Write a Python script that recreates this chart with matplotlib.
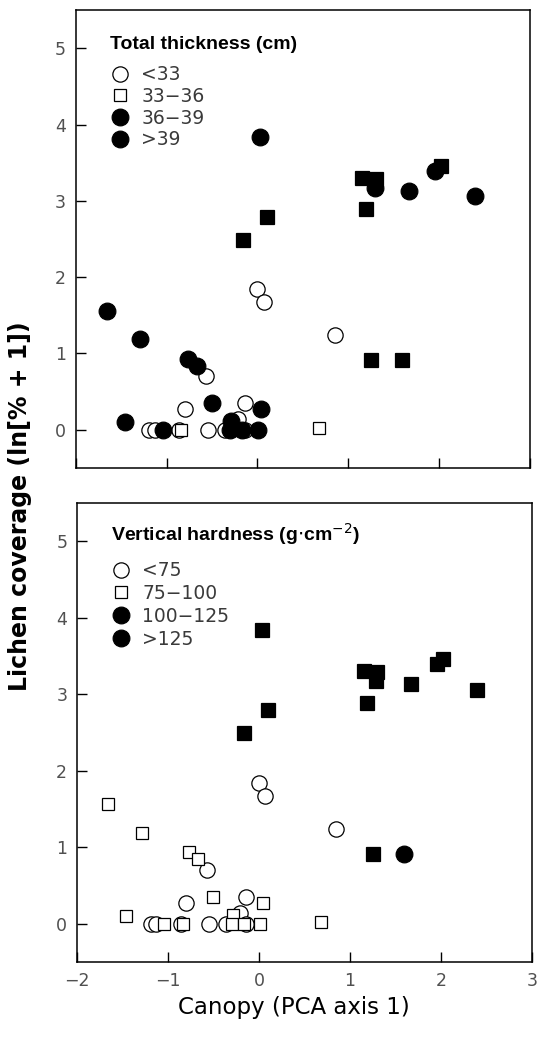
import matplotlib
matplotlib.use('Agg')
import matplotlib.pyplot as plt
from matplotlib.lines import Line2D

plt.rcParams['font.family'] = ['DejaVu Sans']

# canopy (PCA axis 1) and lichen coverage for each stand
canopy = [-1.66, -1.29, 0.03, -0.77, -0.67, -0.50, -1.46, -1.04, -0.29, -0.30,
          -0.17, 0.01, 0.04, 1.29, 1.67, 1.95, 2.40,
          1.15, 1.30, 1.19, 2.02, 0.10, -0.16, 1.25, 1.59,
          0.00, 0.07, 0.85, -0.57, -0.80, -0.14, -1.19, -1.13, -0.55, -0.36,
          -0.21, -0.14, -0.86,
          -0.84, 0.68]
lichen = [1.56, 1.19, 3.84, 0.93, 0.84, 0.35, 0.10, 0.00, 0.11, 0.00,
          0.00, 0.00, 0.27, 3.17, 3.13, 3.39, 3.06,
          3.30, 3.29, 2.89, 3.46, 2.79, 2.49, 0.91, 0.91,
          1.84, 1.67, 1.24, 0.70, 0.27, 0.35, 0.00, 0.00, 0.00, 0.00,
          0.14, 0.00, 0.00,
          0.00, 0.02]

# class index per stand: 0 = open circle, 1 = open square, 2 = filled square, 3 = filled circle
thickness_class = [3, 3, 3, 3, 3, 3, 3, 3, 3, 3,
                   3, 3, 3, 3, 3, 3, 3,
                   2, 2, 2, 2, 2, 2, 2, 2,
                   0, 0, 0, 0, 0, 0, 0, 0, 0, 0,
                   0, 0, 0,
                   1, 1]
hardness_class = [1, 1, 2, 1, 1, 1, 1, 1, 1, 1,
                  1, 1, 1, 2, 2, 2, 2,
                  2, 2, 2, 2, 2, 2, 2, 3,
                  0, 0, 0, 0, 0, 0, 0, 0, 0, 0,
                  0, 0, 0,
                  1, 1]

thickness_labels = ['<33', '33\u221236', '36\u221239', '>39']
hardness_labels = ['<75', '75\u2212100', '100\u2212125', '>125']

styles = [dict(marker='o', mfc='white', mec='black', ms=11, mew=0.9),
          dict(marker='s', mfc='white', mec='black', ms=9, mew=0.9),
          dict(marker='s', mfc='black', mec='black', ms=9.5, mew=0.9),
          dict(marker='o', mfc='black', mec='black', ms=12, mew=0.9)]
# the printed legend shows a filled circle for the third class
legend_styles = [styles[0], styles[1], styles[3], styles[3]]

fig = plt.figure(figsize=(5.38, 10.37), dpi=100)
ax1 = fig.add_axes([0.141, 0.549, 0.844, 0.441])
ax2 = fig.add_axes([0.143, 0.0725, 0.846, 0.4425])


def draw(ax, classes, labels, title, top, spacing, sep):
    for k in [0, 1, 3, 2]:
        xs = [x for x, c in zip(canopy, classes) if c == k]
        ys = [y for y, c in zip(lichen, classes) if c == k]
        ax.plot(xs, ys, linestyle='none', **styles[k])
    handles = [Line2D([], [], linestyle='none', **legend_styles[i]) for i in range(4)]
    leg = ax.legend(handles, labels, title=title, loc='upper left',
                    bbox_to_anchor=(0.055, top), frameon=False,
                    alignment='left', fontsize=13.5, handletextpad=0.65,
                    labelspacing=spacing, borderpad=0, handlelength=1.0,
                    title_fontproperties={'family': 'Liberation Sans',
                                          'size': 14, 'weight': 'bold'})
    leg._legend_box.sep = sep
    for t in leg.get_texts():
        t.set_color('#3a3a3a')
    ax.set_xlim(-2, 3)
    ax.set_ylim(-0.5, 5.5)
    ax.set_xticks([-2, -1, 0, 1, 2, 3])
    ax.set_yticks([0, 1, 2, 3, 4, 5])
    ax.tick_params(direction='in', length=7, width=1, labelsize=12.5, pad=7,
                   labelcolor='#505050', top=False, right=False)
    for s in ax.spines.values():
        s.set_linewidth(1.1)


draw(ax1, thickness_class, thickness_labels, 'Total thickness (cm)', 0.965, 0.14, 9)
draw(ax2, hardness_class, hardness_labels,
     r'Vertical hardness (g$\cdot$cm$^{-2}$)', 0.98, 0.2, 10)
ax1.tick_params(labelbottom=False)

ax2.set_xlabel('Canopy (PCA axis 1)', fontsize=16.5, labelpad=8)
ax2.xaxis.set_label_coords(0.477, -0.075)
fig.text(0.037, 0.512, 'Lichen coverage (ln[% + 1])', rotation=90,
         ha='center', va='center', fontsize=17, fontweight='bold')

fig.savefig('out.png', dpi=100)
